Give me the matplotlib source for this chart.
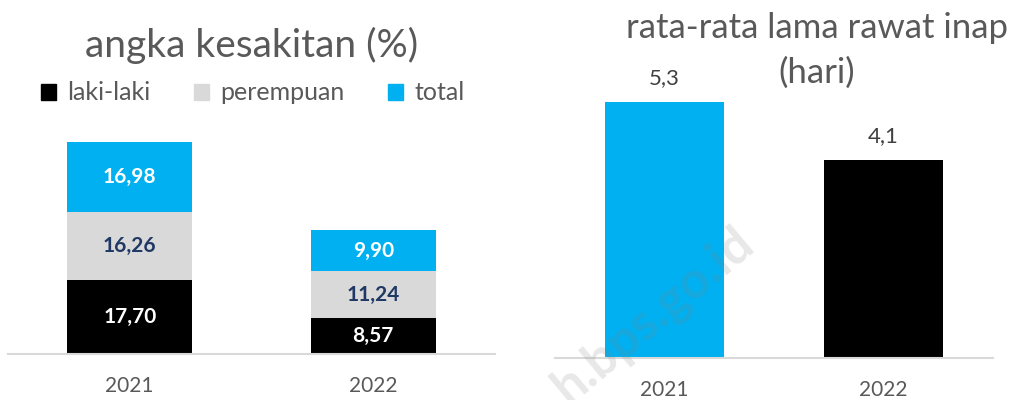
import matplotlib
matplotlib.use("Agg")
import matplotlib.pyplot as plt
from matplotlib.patches import Patch

plt.rcParams['font.family'] = ['Lato', 'DejaVu Sans']

# data
years = ["2021", "2022"]
laki = [17.70, 8.57]
perempuan = [16.26, 11.24]
total = [16.98, 9.90]
lama_rawat = [5.3, 4.1]

BLACK = "#000000"
GREY = "#D9D9D9"
BLUE = "#00B0F0"
NAVY = "#1F3864"
TXT = "#595959"

W, H = 1010, 400
fig = plt.figure(figsize=(W / 100, H / 100), dpi=100)


def box(x0, y0, x1, y1):
    # pixel coords (top-left origin) -> figure fraction
    return [x0 / W, 1 - y1 / H, (x1 - x0) / W, (y1 - y0) / H]


def fmt(v, d):
    return f"{v:.{d}f}".replace(".", ",")


def clean(ax):
    for s in ["top", "right", "left"]:
        ax.spines[s].set_visible(False)
    ax.spines["bottom"].set_color(GREY)
    ax.spines["bottom"].set_linewidth(1.5)
    ax.set_yticks([])
    ax.tick_params(axis="x", length=0, labelsize=15, labelcolor=TXT, pad=16)
    ax.set_facecolor("none")


# left chart: stacked bars
ax1 = fig.add_axes(box(8, 120, 495, 354))
x = range(len(years))
bw = 0.513
bottom2 = [a + b for a, b in zip(laki, perempuan)]
ax1.bar(x, laki, bw, color=BLACK)
ax1.bar(x, perempuan, bw, bottom=laki, color=GREY)
ax1.bar(x, total, bw, bottom=bottom2, color=BLUE)
ax1.set_xlim(-0.5, 1.5)
ax1.set_ylim(0, 234 / 4.17)
ax1.set_xticks(list(x))
ax1.set_xticklabels(years)
clean(ax1)

for i in x:
    ax1.text(i, laki[i] / 2, fmt(laki[i], 2), ha="center", va="center",
             color="white", fontsize=15, fontweight="bold")
    ax1.text(i, laki[i] + perempuan[i] / 2, fmt(perempuan[i], 2), ha="center",
             va="center", color=NAVY, fontsize=15, fontweight="bold")
    ax1.text(i, bottom2[i] + total[i] / 2, fmt(total[i], 2), ha="center",
             va="center", color="white", fontsize=15, fontweight="bold")

fig.text(252 / W, 1 - 45 / H, "angka kesakitan (%)", ha="center", va="center",
         fontsize=28, color=TXT)

handles = [Patch(color=BLACK), Patch(color=GREY), Patch(color=BLUE)]
fig.legend(handles, ["laki-laki", "perempuan", "total"], loc="center",
           bbox_to_anchor=(253 / W, 1 - 93 / H), ncol=3, frameon=False,
           fontsize=18, labelcolor=TXT, handlelength=0.6, handleheight=0.6,
           handletextpad=0.45, columnspacing=1.75)

# right chart: simple bars
ax2 = fig.add_axes(box(555, 100, 993, 358))
ax2.bar(x, lama_rawat, 0.54, color=[BLUE, BLACK])
ax2.set_xlim(-0.5, 1.5)
ax2.set_ylim(0, 258 / 48.3)
ax2.set_xticks(list(x))
ax2.set_xticklabels(years)
clean(ax2)
for i in x:
    ax2.annotate(fmt(lama_rawat[i], 1), (i, lama_rawat[i]), xytext=(0, 17),
                 textcoords="offset points", ha="center", va="center",
                 fontsize=16, color="#404040", annotation_clip=False)

fig.text(817 / W, 1 - 28 / H, "rata-rata lama rawat inap", ha="center",
         va="center", fontsize=25, color=TXT)
fig.text(817 / W, 1 - 73 / H, "(hari)", ha="center",
         va="center", fontsize=25, color=TXT)

# watermark
fig.text(732 / W, 1 - 218 / H, "h.bps.go.id", ha="right", va="top",
         rotation=40, rotation_mode="anchor", fontsize=37, fontweight="bold",
         color="grey", alpha=0.18)

fig.savefig("out.png", dpi=100)
